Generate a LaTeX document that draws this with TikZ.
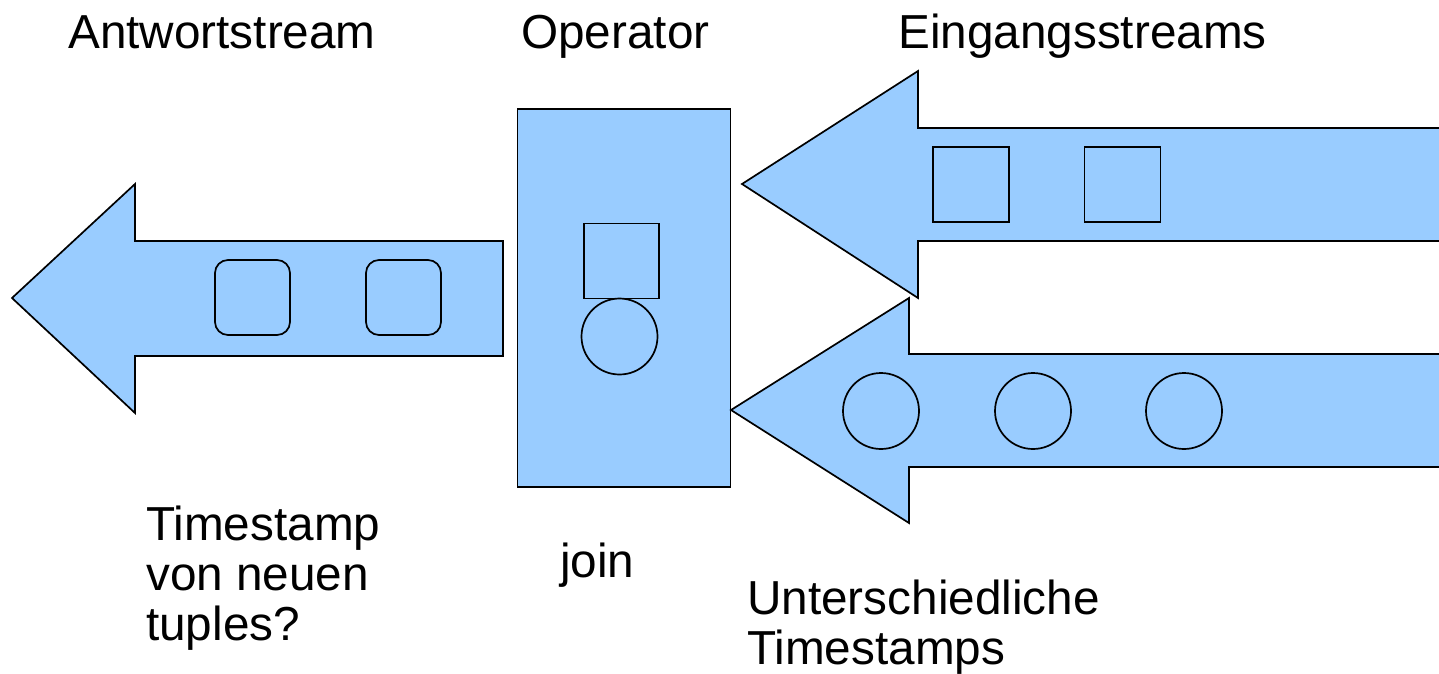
\documentclass[tikz,border=0pt]{standalone}
\usepackage{fontspec}
\setmainfont{Liberation Sans}
\definecolor{streamblue}{HTML}{99CCFF}
\begin{document}
\begin{tikzpicture}[x=1pt,y=-1pt,
  shape outline/.style={draw=black,line width=1.7pt,line join=miter,fill=streamblue},
  tuplesq/.style={draw=black,line width=1.7pt,fill=streamblue,rectangle,minimum width=75pt,minimum height=75pt,inner sep=0pt},
  tupleround/.style={tuplesq,rounded corners=13pt},
  tuplecirc/.style={draw=black,line width=1.7pt,fill=streamblue,circle,minimum size=76pt,inner sep=0pt},
  label text/.style={anchor=base west,inner sep=0pt,align=left,font=\fontsize{47.7}{50}\selectfont}]
\path[clip] (0,0) rectangle (1439,673);

% output stream (points left)
\draw[shape outline] (12,298) -- (135,184) -- (135,241) -- (503,241) -- (503,356)
  -- (135,356) -- (135,413) -- cycle;
\node[tupleround] (out1) at (252.5,297.5) {};
\node[tupleround] (out2) at (403.5,297.5) {};

% join operator
\node[shape outline,rectangle,minimum width=213pt,minimum height=378pt,inner sep=0pt]
  (op) at (624,298) {};
\node[tuplesq] (opsq) at (621.5,261) {};
\node[tuplecirc] (opcirc) at (619.5,336.5) {};

% upper input stream
\draw[shape outline] (742,184) -- (918,71) -- (918,128) -- (1450,128) -- (1450,241)
  -- (918,241) -- (918,298) -- cycle;
\node[tuplesq,minimum width=76pt] (in1) at (971,184.5) {};
\node[tuplesq,minimum width=76pt] (in2) at (1122.5,184.5) {};

% lower input stream
\draw[shape outline] (731,410) -- (909,298) -- (909,354) -- (1450,354) -- (1450,467)
  -- (909,467) -- (909,523) -- cycle;
\node[tuplecirc] (in3) at (881,411) {};
\node[tuplecirc] (in4) at (1033,411) {};
\node[tuplecirc] (in5) at (1184,411) {};

% labels (multi-line blocks are placed by their last baseline)
\node[label text] (lblout) at (68,48) {Antwortstream};
\node[label text] (lblop) at (521,48) {Operator};
\node[label text] (lblin) at (898,48) {Eingangsstreams};
\node[label text] (lblts) at (146,640) {Timestamp\\von neuen\\tuples?};
\node[label text] (lbljoin) at (560,577) {join};
\node[label text] (lbldiff) at (747,664) {Unterschiedliche\\Timestamps};
\end{tikzpicture}
\end{document}
